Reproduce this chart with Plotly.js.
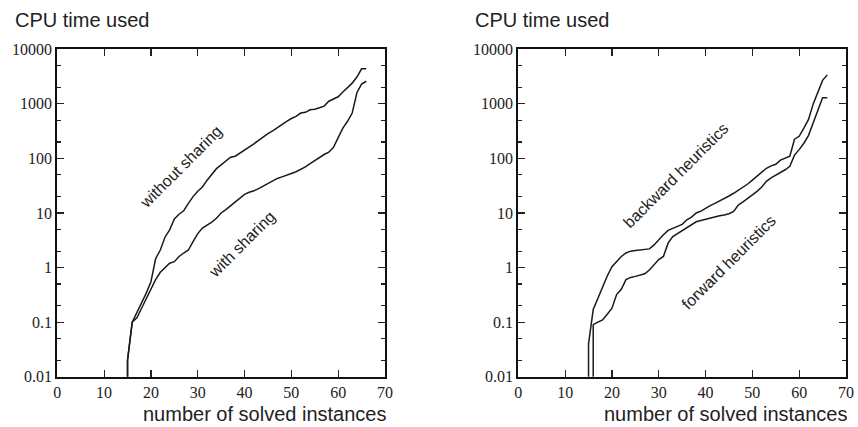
<!DOCTYPE html>
<html>
<head>
<meta charset="utf-8">
<script src="https://cdn.plot.ly/plotly-3.0.1.min.js"></script>
<style>html,body{margin:0;padding:0;background:#fff;}#chart{width:858px;height:427px;}</style>
</head>
<body>
<div id="chart"></div>
<script>
// ---- data ----
const xSharing = [15,15,16,17,18,19,20,21,22,23,24,25,26,27,28,29,30,31,32,33,34,35,36,37,38,39,40,41,42,43,44,45,46,47,48,49,50,51,52,53,54,55,56,57,58,59,60,61,62,63,64,65,66];
const yWithoutSharing = [0.005,0.02,0.1,0.15,0.23,0.34,0.55,1.45,2.1,3.6,4.9,7.8,9.5,11,15,20,25,30,40,52,65,76,90,105,110,125,140,160,185,215,250,285,320,370,430,480,540,590,680,700,780,800,850,910,1120,1250,1350,1650,1950,2400,3100,4400,4400];
const yWithSharing = [0.005,0.02,0.1,0.12,0.18,0.27,0.42,0.6,0.82,1.0,1.2,1.28,1.6,1.85,2.1,3.0,4.2,5.3,6.0,6.8,8.0,10,11.5,13.5,16,19,22,24,25.5,28,31,34,39,43,46,50,53,57,63,70,80,92,105,118,130,160,240,360,480,680,1600,2300,2600];

const xBackward = [15,15,16,17,18,19,20,21,22,23,24,25,26,27,28,29,30,31,32,33,34,35,36,37,38,39,40,41,42,43,44,45,46,47,48,49,50,51,52,53,54,55,56,57,58,59,60,61,62,63,64,65,66];
const yBackward = [0.005,0.04,0.17,0.28,0.45,0.7,1.04,1.3,1.6,1.85,2.0,2.05,2.1,2.12,2.2,2.6,3.3,4.0,4.8,5.3,5.7,6.2,7.5,8.4,10,10.8,12.3,13.7,15,16.5,18.5,20.5,23,26,30,34,40,47,56,66,73,78,93,100,110,225,255,360,520,1000,1700,2700,3400];
const xForward = [16,16,17,18,19,20,21,22,23,24,25,26,27,28,29,30,31,32,33,34,35,36,37,38,39,40,41,42,43,44,45,46,47,48,49,50,51,52,53,54,55,56,57,58,59,60,61,62,63,64,65,66];
const yForward = [0.005,0.09,0.1,0.11,0.14,0.18,0.32,0.4,0.6,0.66,0.69,0.73,0.77,0.9,1.1,1.4,1.6,2.8,3.7,4.2,4.7,5.5,6.2,6.9,7.3,7.7,8.1,8.5,8.9,9.2,9.7,10.7,14,16,18.5,21,25,30,38,44,49,54,62,72,115,145,190,265,450,800,1300,1300];

const xTickVals = [0,10,20,30,40,50,60,70];
const yTickVals = [0.01,0.1,1,10,100,1000,10000];
const yTickText = ['0.01','0.1','1','10','100','1000','10000'];
const yMinorVals = [0.02,0.05,0.2,0.5,2,5,20,50,200,500,2000,5000];

const chartTitle = 'CPU time used';
const xTitle = 'number of solved instances';

// ---- styles ----
const lineStyle = {color:'#1a1a1a', width:1.5};
const tickFont = {family:'Liberation Serif, Times New Roman, serif', size:16, color:'#222'};
const sansFont = {family:'Liberation Sans, Arial, sans-serif', size:20, color:'#222'};
const labelFont = {family:'Liberation Sans, Arial, sans-serif', size:16, color:'#222'};

const traces = [
  {x:xSharing, y:yWithoutSharing, xaxis:'x', yaxis:'y', mode:'lines', line:lineStyle, name:'without sharing'},
  {x:xSharing, y:yWithSharing, xaxis:'x', yaxis:'y', mode:'lines', line:lineStyle, name:'with sharing'},
  {x:xBackward, y:yBackward, xaxis:'x2', yaxis:'y2', mode:'lines', line:lineStyle, name:'backward heuristics'},
  {x:xForward, y:yForward, xaxis:'x2', yaxis:'y2', mode:'lines', line:lineStyle, name:'forward heuristics'}
];

function xAx(domain, anchor){
  return {domain:domain, anchor:anchor, range:[0,70], tickmode:'array', tickvals:xTickVals,
    ticks:'inside', ticklen:7, tickwidth:1.2, tickcolor:'#222', showline:true, linewidth:2, linecolor:'#111',
    mirror:'allticks', showgrid:false, zeroline:false, tickfont:tickFont, fixedrange:true};
}
function yAx(domain, anchor){
  return {domain:domain, anchor:anchor, type:'log', range:[-2,4], tickmode:'array', tickvals:yTickVals, ticktext:yTickText,
    ticks:'inside', ticklen:7, tickwidth:1.2, tickcolor:'#222', showline:true, linewidth:2, linecolor:'#111',
    mirror:'allticks', showgrid:false, zeroline:false, tickfont:tickFont,
    minor:{tickmode:'array', tickvals:yMinorVals, ticks:'inside', ticklen:4, tickwidth:1.2, tickcolor:'#222', showgrid:false}};
}

const yDom = [0.1178, 0.8845];
const layout = {
  width:858, height:427, margin:{l:0,r:0,t:0,b:0}, showlegend:false,
  paper_bgcolor:'#fff', plot_bgcolor:'#fff',
  xaxis: xAx([0.0668,0.4487],'y'),
  yaxis: yAx(yDom,'x'),
  xaxis2: xAx([0.6041,0.9860],'y2'),
  yaxis2: yAx(yDom,'x2'),
  annotations:[
    {xref:'paper', yref:'paper', x:0.0148, y:0.953, xanchor:'left', yanchor:'middle', text:chartTitle, showarrow:false, font:sansFont},
    {xref:'paper', yref:'paper', x:0.5516, y:0.953, xanchor:'left', yanchor:'middle', text:chartTitle, showarrow:false, font:sansFont},
    {xref:'paper', yref:'paper', x:0.164, y:0.0, xanchor:'left', yanchor:'bottom', text:xTitle, showarrow:false, font:{family:sansFont.family, size:20, color:'#222'}},
    {xref:'paper', yref:'paper', x:0.7013, y:0.0, xanchor:'left', yanchor:'bottom', text:xTitle, showarrow:false, font:{family:sansFont.family, size:20, color:'#222'}},
    {xref:'x', yref:'y', x:26.4, y:1.86, text:'without sharing', textangle:-45, showarrow:false, font:labelFont},
    {xref:'x', yref:'y', x:39.4, y:0.416, text:'with sharing', textangle:-45, showarrow:false, font:labelFont},
    {xref:'x2', yref:'y2', x:33.7, y:1.68, text:'backward heuristics', textangle:-45, showarrow:false, font:labelFont},
    {xref:'x2', yref:'y2', x:44.9, y:0.095, text:'forward heuristics', textangle:-45, showarrow:false, font:labelFont}
  ]
};

Plotly.newPlot('chart', traces, layout, {staticPlot:true, displayModeBar:false});
</script>
</body>
</html>
